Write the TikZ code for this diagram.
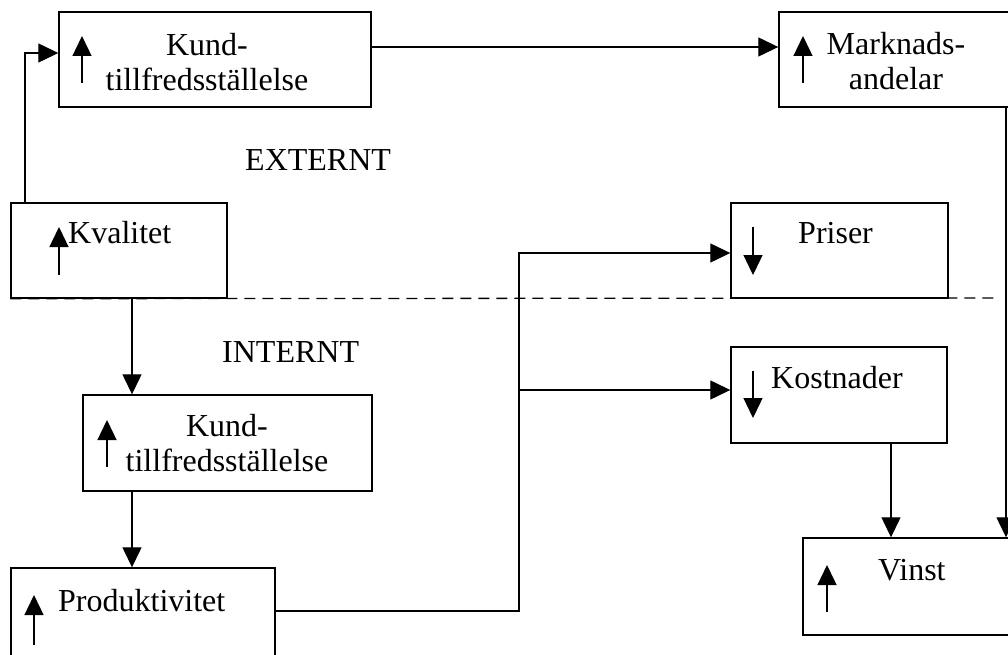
\documentclass[tikz,border=0pt]{standalone}
\usepackage{fontspec}
\setmainfont{Liberation Serif}
\usetikzlibrary{arrows.meta}
\begin{document}
\begin{tikzpicture}[x=1pt,y=-1pt,
  box/.style={draw,line width=1.4pt,rectangle,inner sep=0pt},
  lbl/.style={font=\fontsize{32}{35}\selectfont,inner sep=0pt,align=center},
  arr/.style={line width=1.3pt,-{Triangle[length=20pt,width=19pt]}},
  ind/.style={line width=1.3pt,-{Triangle[length=20pt,width=19pt]}},
  sep/.style={line width=1.3pt,dash pattern=on 11pt off 7pt}]
\useasboundingbox (0,0) rectangle (1008,655);
% boxes
\node[box,minimum width=312pt,minimum height=95pt] (k1) at (215,59.5) {};
\node[box,minimum width=233pt,minimum height=95pt] (mk) at (895.5,59.5) {};
\node[box,minimum width=216pt,minimum height=95pt] (kv) at (119,250.5) {};
\node[box,minimum width=217pt,minimum height=95pt] (pr) at (839.5,250.5) {};
\node[box,minimum width=289pt,minimum height=96pt] (k2) at (227.5,443) {};
\node[box,minimum width=216pt,minimum height=96pt] (ko) at (839,395) {};
\node[box,minimum width=264pt,minimum height=95pt] (pd) at (143,615.5) {};
\node[box,minimum width=209pt,minimum height=97pt] (vi) at (907.5,586.5) {};
% texts
\node[lbl] (t1) at (207,62) {Kund-\\tillfredsställelse};
\node[lbl] (t2) at (896,61.5) {Marknads-\\andelar};
\node[lbl,anchor=base west] (t3) at (68,243) {Kvalitet};
\node[lbl,anchor=base west] (t4) at (798,243) {Priser};
\node[lbl] (t5) at (227,443.5) {Kund-\\tillfredsställelse};
\node[lbl,anchor=base west] (t6) at (771,388) {Kostnader};
\node[lbl,anchor=base west] (t7) at (58,611) {Produktivitet};
\node[lbl,anchor=base west] (t8) at (878,580) {Vinst};
\node[lbl,anchor=base west] (ext) at (245,171) {EXTERNT};
\node[lbl,anchor=base west] (int) at (222,362) {INTERNT};
% trend indicators
\draw[ind] (82,83) -- (82,36);
\draw[ind] (803,83) -- (803,36);
\draw[ind] (59,275) -- (59,227);
\draw[ind] (753,227) -- (753,275);
\draw[ind] (107,467) -- (107,420);
\draw[ind] (753,371) -- (753,418);
\draw[ind] (34,645) -- (34,595);
\draw[ind] (827,612) -- (827,565);
% separator
\draw[sep] (kv.south west) -- (998,298);
% connectors
\coordinate (j) at (519,390);
\draw[arr] (kv.north -| 25,0) |- (k1.west |- 0,53);
\draw[arr] (k1.east |- 0,47) -- (mk.west |- 0,47);
\draw[arr] (mk.south -| 1006,0) -- (vi.north -| 1006,0);
\draw[arr] (kv.south -| 132,0) -- (k2.north -| 132,0);
\draw[arr] (k2.south -| 132,0) -- (pd.north -| 132,0);
\draw[arr] (pd.east |- 0,611) -| (j) |- (pr.west |- 0,253);
\draw[arr] (j) -- (ko.west |- j);
\draw[arr] (ko.south -| 891,0) -- (vi.north -| 891,0);
\end{tikzpicture}
\end{document}
